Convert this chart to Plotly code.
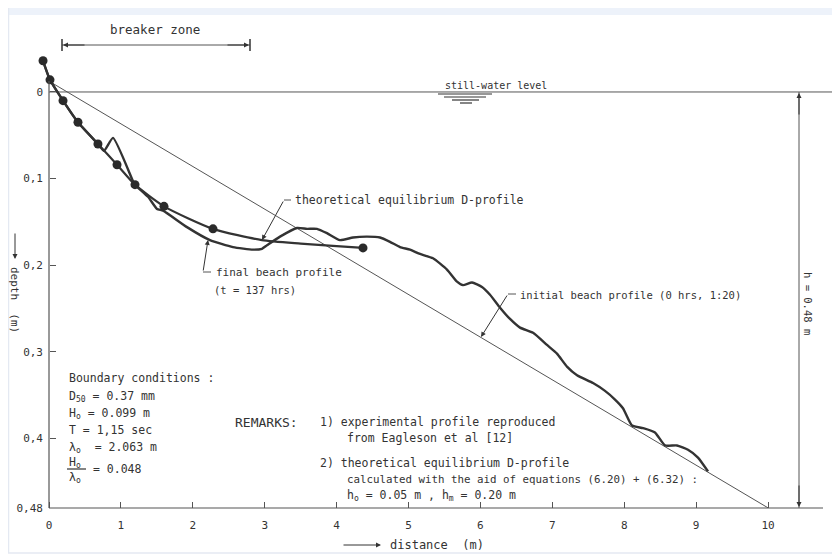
import plotly.graph_objects as go

# ---------------- data ----------------
# final beach profile (t = 137 hrs): distance (m), depth (m)
final_x = [-0.083, 0.014, 0.195, 0.403, 0.681, 0.765, 0.890, 1.168, 1.196, 1.377, 1.502, 1.586,
           1.919, 2.239, 2.559, 2.837, 2.962, 3.032, 3.213, 3.449, 3.588, 3.727, 3.866, 4.047,
           4.228, 4.423, 4.604, 4.743, 4.882, 5.021, 5.160, 5.341, 5.535, 5.675, 5.758, 5.883,
           6.022, 6.134, 6.273, 6.412, 6.551, 6.732, 6.926, 7.065, 7.204, 7.344, 7.566, 7.733,
           7.872, 7.983, 8.109, 8.262, 8.428, 8.567, 8.734, 8.887, 9.026, 9.166]
final_depth = [-0.036, -0.014, 0.010, 0.035, 0.060, 0.068, 0.053, 0.103, 0.107, 0.121, 0.135, 0.137,
               0.156, 0.171, 0.179, 0.182, 0.181, 0.177, 0.167, 0.157, 0.158, 0.158, 0.163, 0.171,
               0.168, 0.167, 0.168, 0.173, 0.179, 0.182, 0.187, 0.192, 0.205, 0.219, 0.223, 0.220,
               0.225, 0.234, 0.249, 0.262, 0.272, 0.278, 0.292, 0.302, 0.317, 0.327, 0.336, 0.345,
               0.355, 0.365, 0.385, 0.388, 0.393, 0.408, 0.408, 0.413, 0.422, 0.438]

# theoretical equilibrium D-profile (curve) and its computed points (dots)
dprof_x = [-0.083, 0.014, 0.195, 0.403, 0.681, 0.946, 1.196, 1.599, 2.281, 2.962, 3.500, 4.000, 4.367]
dprof_depth = [-0.036, -0.014, 0.010, 0.035, 0.060, 0.084, 0.107, 0.132, 0.158, 0.171, 0.175, 0.178, 0.180]
dots_x = [-0.083, 0.014, 0.195, 0.403, 0.681, 0.946, 1.196, 1.599, 2.281, 4.367]
dots_depth = [-0.036, -0.014, 0.010, 0.035, 0.060, 0.084, 0.107, 0.132, 0.158, 0.180]

# initial beach profile (1:20 slope)
initial_x = [0.01, 10.0]
initial_depth = [-0.012, 0.48]

# still-water level
swl_x = [0.0, 11.1]
swl_depth = [0.0, 0.0]

x_ticks = [0, 1, 2, 3, 4, 5, 6, 7, 8, 9, 10]
x_tick_labels = ["0", "1", "2", "3", "4", "5", "6", "7", "8", "9", "10"]
y_ticks = [0.0, 0.1, 0.2, 0.3, 0.4, 0.48]
y_tick_labels = ["0", "0,1", "0,2", "0,3", "0,4", "0,48"]

# ---------------- layout helpers (page pixel -> paper) ----------------
OFF = 8                      # the page body margin that offsets the figure
W, H = 840 - OFF, 555 - OFF  # figure size
PLOT_BOTTOM = 508            # page pixel row of the distance axis
X0_PX, PX_PER_M = 49.0, 71.9
Y0_PX, PY_PER_M = 92.0, 866.7
PB = PLOT_BOTTOM - OFF       # plot bottom in figure pixels


def PX(px):
    return (px - OFF) / W


def PY(py):
    return (PB - (py - OFF)) / PB


INK = "#333333"
THIN = "#555555"
FONT = "DejaVu Sans Mono"

fig = go.Figure()

fig.add_trace(go.Scatter(x=swl_x, y=swl_depth, mode="lines",
                         line=dict(color=THIN, width=1), hoverinfo="skip", showlegend=False))
fig.add_trace(go.Scatter(x=initial_x, y=initial_depth, mode="lines",
                         line=dict(color=THIN, width=1), name="initial beach profile", showlegend=False))
fig.add_trace(go.Scatter(x=dprof_x, y=dprof_depth, mode="lines",
                         line=dict(color=INK, width=2.2, shape="spline", smoothing=0.6),
                         name="theoretical equilibrium D-profile", showlegend=False))
fig.add_trace(go.Scatter(x=final_x, y=final_depth, mode="lines",
                         line=dict(color=INK, width=2.4, shape="spline", smoothing=0.5),
                         name="final beach profile", showlegend=False))
fig.add_trace(go.Scatter(x=dots_x, y=dots_depth, mode="markers",
                         marker=dict(color="#2a2a2a", size=9), cliponaxis=False,
                         name="D-profile points", showlegend=False))

shapes = []


def seg(x0, y0, x1, y1, color=THIN, width=1):
    shapes.append(dict(type="line", xref="paper", yref="paper",
                       x0=PX(x0), y0=PY(y0), x1=PX(x1), y1=PY(y1),
                       line=dict(color=color, width=width)))


# frame of the scanned picture
shapes.append(dict(type="rect", xref="paper", yref="paper", x0=PX(8), x1=PX(840),
                   y0=PY(15), y1=PY(8), fillcolor="#edf2fa", line=dict(width=0), layer="below"))
seg(8.5, 8, 8.5, 553, color="#e4e9f2", width=1.5)
seg(8, 553, 840, 553, color="#e4e9f2", width=1.5)

# axes lines
seg(49, 81, 49, 508, color=THIN, width=1.2)
seg(49, 508, 823, 508, color=THIN, width=1.2)

# h = 0.48 m dimension line
seg(799, 92, 799, 508, color=THIN, width=1)

# breaker zone dimension
seg(62, 45, 250, 45, color=THIN, width=1)
seg(62, 39, 62, 51, color=INK, width=1.5)
seg(250, 39, 250, 51, color=INK, width=1.5)

# still-water symbol
seg(438, 94, 492, 94, color=INK, width=1.2)
seg(444, 97, 486, 97, color=INK, width=1.2)
seg(452, 100, 479, 100, color=INK, width=1.2)
seg(460, 103, 472, 103, color=INK, width=1.2)

# leader stubs
seg(291, 200, 284, 200)
seg(211, 272, 203, 272)
seg(516, 294, 508, 294)

# fraction bar H0 / lambda0
seg(67, 469, 86, 469, color=INK, width=1.2)

fig.update_layout(shapes=shapes)

annotations = []


def txt(text, x, y, xanchor="left", size=11, angle=0):
    annotations.append(dict(text=text, xref="paper", yref="paper", x=PX(x), y=PY(y),
                            xanchor=xanchor, yanchor="middle", showarrow=False, textangle=angle,
                            font=dict(family=FONT, size=size, color=INK)))


def arrow(hx, hy, tx, ty, size=1.0):
    annotations.append(dict(text="", xref="paper", yref="paper", x=PX(hx), y=PY(hy),
                            ax=tx - hx, ay=ty - hy, axref="pixel", ayref="pixel",
                            showarrow=True, arrowhead=2, arrowsize=size, arrowwidth=1,
                            arrowcolor=INK, standoff=0, startstandoff=0))


txt("breaker zone", 155, 29, xanchor="center", size=12.5)
txt("still-water level", 443, 85, size=10)
txt("theoretical equilibrium D-profile", 293, 200, size=11.5)
txt("final beach profile", 214, 272, size=11)
txt("(t = 137 hrs)", 212, 290, size=10.5)
txt("initial beach profile (0 hrs, 1:20)", 518, 295, size=10.5)
txt("h = 0.48 m", 808, 303, xanchor="center", size=10.5, angle=90)
txt("depth  (m)", 15, 300, xanchor="center", size=11, angle=90)
txt("distance  (m)", 388, 545, size=12)

txt("Boundary conditions :", 67, 378, size=11.5)
txt("D<sub>50</sub> = 0.37 mm", 67, 396, size=11.5)
txt("H<sub>o</sub> = 0.099 m", 67, 413, size=11.5)
txt("T = 1,15 sec", 67, 430, size=11.5)
txt("λ<sub>o</sub>  = 2.063 m", 67, 447, size=11.5)
txt("H<sub>o</sub><br>λ<sub>o</sub>", 67, 470, size=11.5)
txt("= 0.048", 91, 469, size=11.5)

txt("REMARKS:", 233, 422, size=13)
txt("1) experimental profile reproduced", 318, 422, size=11.5)
txt("from Eagleson et al [12]", 345, 438, size=11.5)
txt("2) theoretical equilibrium D-profile", 318, 463, size=11.5)
txt("calculated with the aid of equations (6.20) + (6.32) :", 345, 479, size=10.8)
txt("h<sub>o</sub> = 0.05 m , h<sub>m</sub> = 0.20 m", 345, 495, size=11.5)

arrow(63, 45, 86, 45)
arrow(249, 45, 226, 45)
arrow(799, 93, 799, 116)
arrow(799, 507, 799, 484)
arrow(15, 259, 15, 232)
arrow(381, 545, 342, 545)
arrow(262, 240, 284, 200)
arrow(208, 240, 203, 272)
arrow(481, 337, 508, 294)

fig.update_layout(annotations=annotations)

fig.update_layout(
    width=W, height=H,
    margin=dict(l=0, r=0, t=0, b=H - PB, pad=0),
    paper_bgcolor="white", plot_bgcolor="white",
    showlegend=False,
    xaxis=dict(range=[(OFF - X0_PX) / PX_PER_M, (840 - X0_PX) / PX_PER_M],
               tickmode="array", tickvals=x_ticks, ticktext=x_tick_labels,
               ticks="inside", ticklen=6, tickwidth=1, tickcolor=THIN,
               ticklabelstandoff=9,
               showgrid=False, zeroline=False, showline=False,
               tickfont=dict(family=FONT, size=11, color=INK)),
    yaxis=dict(range=[0.4802, (OFF - Y0_PX) / PY_PER_M],
               anchor="free", position=PX(49),
               tickmode="array", tickvals=y_ticks, ticktext=y_tick_labels,
               ticks="inside", ticklen=6, tickwidth=1, tickcolor=THIN,
               ticklabelstandoff=6,
               showgrid=False, zeroline=False, showline=False,
               tickfont=dict(family=FONT, size=11, color=INK)),
)

fig.write_html("out.html")
